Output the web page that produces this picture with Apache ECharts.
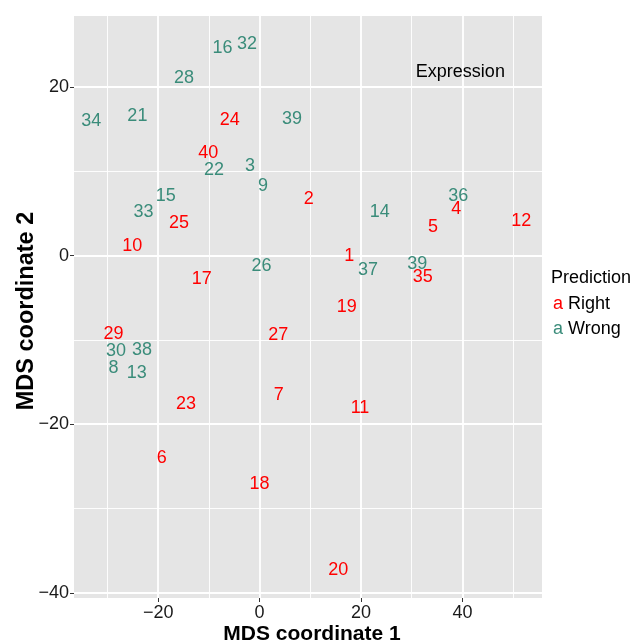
<!DOCTYPE html>
<html>
<head>
<meta charset="utf-8">
<script src="https://cdn.jsdelivr.net/npm/echarts@6/dist/echarts.min.js"></script>
<style>
  html, body { margin: 0; padding: 0; background: #ffffff; }
  #chart { width: 637px; height: 644px; }
</style>
</head>
<body>
<div id="chart"></div>
<script>
// Samples predicted correctly
const rightLabels = ['1','2','4','5','6','7','10','11','12','17','18','19','20','23','24','25','27','29','35','40'];
const rightX = [17.7, 9.7, 38.8, 34.2, -19.3, 3.8, -25.1, 19.8, 51.6, -11.4, 0.0, 17.2, 15.5, -14.5, -5.9, -15.9, 3.7, -28.8, 32.2, -10.1];
const rightY = [-0.1, 6.7, 5.5, 3.4, -24.0, -16.5, 1.1, -18.1, 4.1, -2.8, -27.1, -6.1, -37.3, -17.6, 16.1, 3.9, -9.4, -9.3, -2.6, 12.1];

// Samples predicted wrongly
const wrongLabels = ['3','8','9','13','14','15','16','21','22','26','28','30','32','33','34','36','37','38','39','39'];
const wrongX = [-1.9, -28.8, 0.7, -24.2, 23.7, -18.5, -7.3, -24.1, -9.0, 0.4, -14.9, -28.3, -2.5, -22.9, -33.2, 39.2, 21.4, -23.2, 6.4, 31.1];
const wrongY = [10.6, -13.3, 8.3, -13.9, 5.1, 7.0, 24.6, 16.5, 10.1, -1.2, 21.0, -11.3, 25.1, 5.2, 16.0, 7.0, -1.7, -11.2, 16.2, -1.0];

// Axis ranges and ticks
const xRange = [-36.6, 55.7];
const yRange = [-40.6, 28.4];
const xMajor = [-20, 0, 20, 40];
const xMinor = [-30, -10, 10, 30, 50];
const yMajor = [-40, -20, 0, 20];
const yMinor = [-30, -10, 10];

// Panel annotation
const noteText = 'Expression';
const notePos = [39.6, 21.8];

const RED = '#ff0000';
const TEAL = '#3a8c7a';
const FONT = '"Liberation Sans", Arial, Helvetica, sans-serif';
const CLEAR = 'rgba(0,0,0,0)';

const fmt = v => (v < 0 ? '\u2212' + Math.abs(v) : String(v));

function points(xs, ys, labels) {
  return xs.map((x, i) => ({ value: [x, ys[i]], name: labels[i] }));
}

function gridLines(vals, key, width) {
  return vals.map(v => ({ [key]: v, lineStyle: { color: '#ffffff', width: width, type: 'solid' } }));
}

function textSeries(name, data, color, size) {
  return {
    name: name,
    type: 'scatter',
    data: data,
    symbol: 'circle',
    symbolSize: 1,
    itemStyle: { color: CLEAR, opacity: 1 },
    silent: true,
    z: 5,
    label: {
      show: true,
      position: 'inside',
      formatter: p => p.name,
      color: color,
      opacity: 1,
      fontSize: size || 18,
      fontFamily: FONT,
      align: 'center',
      verticalAlign: 'middle'
    },
    emphasis: { disabled: true }
  };
}

const chart = echarts.init(document.getElementById('chart'), null, { renderer: 'canvas' });

chart.setOption({
  animation: false,
  backgroundColor: '#ffffff',
  textStyle: { fontFamily: FONT },
  grid: {
    left: 74, top: 16, width: 468, height: 582,
    outerBoundsMode: 'none',
    containLabel: false,
    show: true, backgroundColor: '#e5e5e5', borderWidth: 0
  },
  title: {
    text: 'Prediction',
    left: 551, top: 269,
    padding: 0,
    textStyle: { fontSize: 18, fontWeight: 'normal', color: '#000000', fontFamily: FONT }
  },
  legend: {
    data: ['Right', 'Wrong'],
    orient: 'vertical',
    left: 548, top: 295,
    padding: 0,
    itemGap: 7,
    itemWidth: 0, itemHeight: 0,
    icon: 'none',
    selectedMode: false,
    formatter: name => '{' + (name === 'Right' ? 'r' : 'w') + '|a} ' + name,
    textStyle: {
      fontSize: 18, color: '#000000', fontFamily: FONT,
      rich: {
        r: { color: RED, fontSize: 18, fontFamily: FONT },
        w: { color: TEAL, fontSize: 18, fontFamily: FONT }
      }
    }
  },
  xAxis: {
    type: 'value',
    min: xRange[0], max: xRange[1],
    name: 'MDS coordinate 1',
    nameLocation: 'middle',
    nameMoveOverlap: false,
    nameGap: 26,
    nameTextStyle: { fontSize: 21, fontWeight: 'bold', color: '#000000', fontFamily: FONT, padding: [0, 0, 0, 8] },
    axisLine: { show: true, onZero: false, lineStyle: { color: CLEAR } },
    splitLine: { show: false },
    axisTick: { show: true, customValues: xMajor, length: 4, lineStyle: { color: '#333333', width: 1 } },
    axisLabel: { customValues: xMajor, formatter: fmt, fontSize: 18, color: '#1a1a1a', margin: 6, fontFamily: FONT }
  },
  yAxis: {
    type: 'value',
    min: yRange[0], max: yRange[1],
    name: 'MDS coordinate 2',
    nameLocation: 'middle',
    nameMoveOverlap: false,
    nameGap: 35,
    nameTextStyle: { fontSize: 23.5, fontWeight: 'bold', color: '#000000', fontFamily: FONT, padding: [0, 8, 0, 0] },
    axisLine: { show: true, onZero: false, lineStyle: { color: CLEAR } },
    splitLine: { show: false },
    axisTick: { show: true, customValues: yMajor, length: 4, lineStyle: { color: '#333333', width: 1 } },
    axisLabel: { customValues: yMajor, formatter: fmt, fontSize: 18, color: '#1a1a1a', margin: 5, fontFamily: FONT }
  },
  series: [
    {
      name: 'grid-lines',
      type: 'scatter',
      data: [],
      silent: true,
      z: 1,
      markLine: {
        silent: true,
        symbol: 'none',
        animation: false,
        label: { show: false },
        emphasis: { disabled: true },
        data: [
          ...gridLines(xMinor, 'xAxis', 0.9),
          ...gridLines(yMinor, 'yAxis', 0.9),
          ...gridLines(xMajor, 'xAxis', 1.8),
          ...gridLines(yMajor, 'yAxis', 1.8)
        ]
      }
    },
    textSeries('Right', points(rightX, rightY, rightLabels), RED),
    textSeries('Wrong', points(wrongX, wrongY, wrongLabels), TEAL),
    textSeries('note', [{ value: notePos, name: noteText }], '#000000')
  ]
});
</script>
</body>
</html>
